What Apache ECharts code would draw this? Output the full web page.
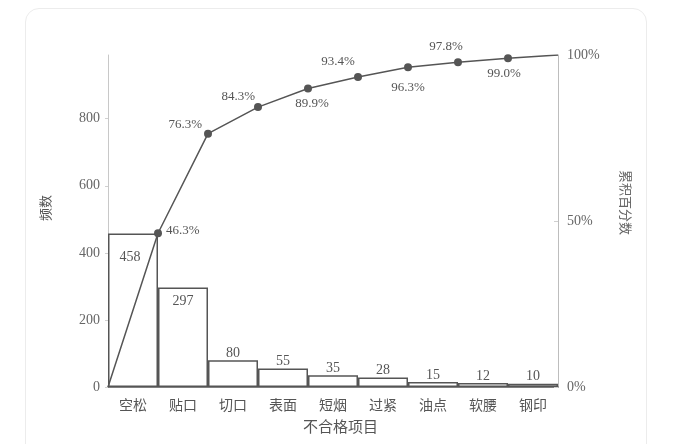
<!DOCTYPE html>
<html>
<head>
<meta charset="utf-8">
<script src="https://cdn.jsdelivr.net/npm/echarts@6/dist/echarts.min.js"></script>
<style>
  html, body { margin: 0; padding: 0; background: #ffffff; }
  #card { position: absolute; left: 25px; top: 8px; width: 622px; height: 460px;
          border: 1px solid #ececec; border-radius: 14px; box-sizing: border-box; }
  #main { position: absolute; left: 0; top: 0; width: 685px; height: 444px; }
</style>
</head>
<body>
<div id="card"></div>
<div id="main"></div>
<script>
// ---- data ----
const categories = ['空松', '贴口', '切口', '表面', '短烟', '过紧', '油点', '软腰', '钢印'];
const counts = [458, 297, 80, 55, 35, 28, 15, 12, 10];
const cumulativePct = [0, 46.3, 76.3, 84.3, 89.9, 93.4, 96.3, 97.8, 99.0, 100];
const leftTicks = [0, 200, 400, 600, 800];
const rightTicks = ['0%', '50%', '100%'];

// ---- styling (not data) ----
const serif = '"Liberation Serif", "DejaVu Serif", "Noto Sans CJK SC", serif';
const cjk = '"Noto Sans CJK SC", "Liberation Serif", serif';
const ink = '#555555';
const total = counts.reduce((a, b) => a + b, 0);

const barLabelStyle = [
  { position: 'insideTop', offset: [-3, 17] },
  { position: 'insideTop', offset: [0, 7] }
];
const lineLabelStyle = [
  null,
  { position: 'right', distance: 4, offset: [0, -3] },
  { position: 'left', distance: 2, offset: [0, -9] },
  { position: 'left', distance: 1, offset: [2, -11] },
  { position: 'bottom', distance: 5, offset: [4, 0] },
  { position: 'top', distance: 5, offset: [-20, 0] },
  { position: 'bottom', distance: 5, offset: [0, 5] },
  { position: 'top', distance: 5, offset: [-12, 0] },
  { position: 'bottom', distance: 5, offset: [-4, 0] },
  null
];

const barData = counts.map((v, i) => {
  const item = { value: v };
  if (barLabelStyle[i]) item.label = barLabelStyle[i];
  return item;
});

const lineData = cumulativePct.map((v, i) => {
  const st = lineLabelStyle[i];
  const item = { value: [i, v] };
  if (st) {
    item.label = Object.assign({ show: true }, st);
    item.symbol = 'circle';
  } else {
    item.symbol = 'none';
    item.label = { show: false };
  }
  return item;
});

const chart = echarts.init(document.getElementById('main'), null, { renderer: 'canvas' });
chart.setOption({
  animation: false,
  backgroundColor: 'transparent',
  grid: { left: 108, right: 127, top: 55, bottom: 57, containLabel: false },
  xAxis: [
    {
      type: 'category',
      data: categories,
      boundaryGap: true,
      axisLine: { show: true, lineStyle: { color: ink, width: 1.5 } },
      axisTick: { show: false },
      axisLabel: { color: '#555', fontFamily: cjk, fontSize: 14, margin: 11 },
      splitLine: { show: false }
    },
    {
      type: 'value',
      min: 0,
      max: categories.length,
      show: false,
      splitLine: { show: false }
    }
  ],
  yAxis: [
    {
      type: 'value',
      min: 0,
      max: total,
      interval: 200,
      axisLine: { show: true, lineStyle: { color: '#c8c8c8', width: 1 } },
      axisTick: { show: true, length: 3, lineStyle: { color: '#d0d0d0' } },
      axisLabel: {
        color: '#666', fontFamily: serif, fontSize: 14, margin: 8, showMaxLabel: false,
        formatter: v => (leftTicks.indexOf(v) >= 0 ? String(v) : '')
      },
      splitLine: { show: false }
    },
    {
      type: 'value',
      min: 0,
      max: 100,
      interval: 50,
      position: 'right',
      axisLine: { show: true, lineStyle: { color: '#bdbdbd', width: 1 } },
      axisTick: { show: true, inside: true, length: 4, lineStyle: { color: '#cfcfcf' } },
      axisLabel: {
        color: '#666', fontFamily: serif, fontSize: 14, margin: 9,
        formatter: v => rightTicks[Math.round(v / 50)] || ''
      },
      splitLine: { show: false }
    }
  ],
  graphic: [
    {
      type: 'text', left: 39, top: 195,
      rotation: Math.PI / 2,
      style: { text: '频数', font: '13px ' + cjk, fill: '#555' }
    },
    {
      type: 'text', x: 632, y: 170,
      rotation: -Math.PI / 2,
      style: { text: '累积百分数', font: '13px ' + cjk, fill: '#666' }
    },
    {
      type: 'text', left: 303, top: 419,
      style: { text: '不合格项目', font: '15px ' + cjk, fill: '#555' }
    }
  ],
  series: [
    {
      type: 'bar',
      xAxisIndex: 0,
      yAxisIndex: 0,
      data: barData,
      barWidth: '100%',
      barGap: '0%',
      itemStyle: { color: '#ffffff', borderColor: ink, borderWidth: 1.5 },
      label: {
        show: true, position: 'top', distance: 0,
        color: '#555', fontFamily: serif, fontSize: 14
      },
      z: 2
    },
    {
      type: 'line',
      xAxisIndex: 1,
      yAxisIndex: 1,
      data: lineData,
      symbolSize: 8,
      lineStyle: { color: ink, width: 1.5 },
      itemStyle: { color: ink },
      label: {
        show: true, color: '#555', fontFamily: serif, fontSize: 13,
        formatter: p => p.value[1].toFixed(1) + '%'
      },
      z: 3
    }
  ]
});
</script>
</body>
</html>
